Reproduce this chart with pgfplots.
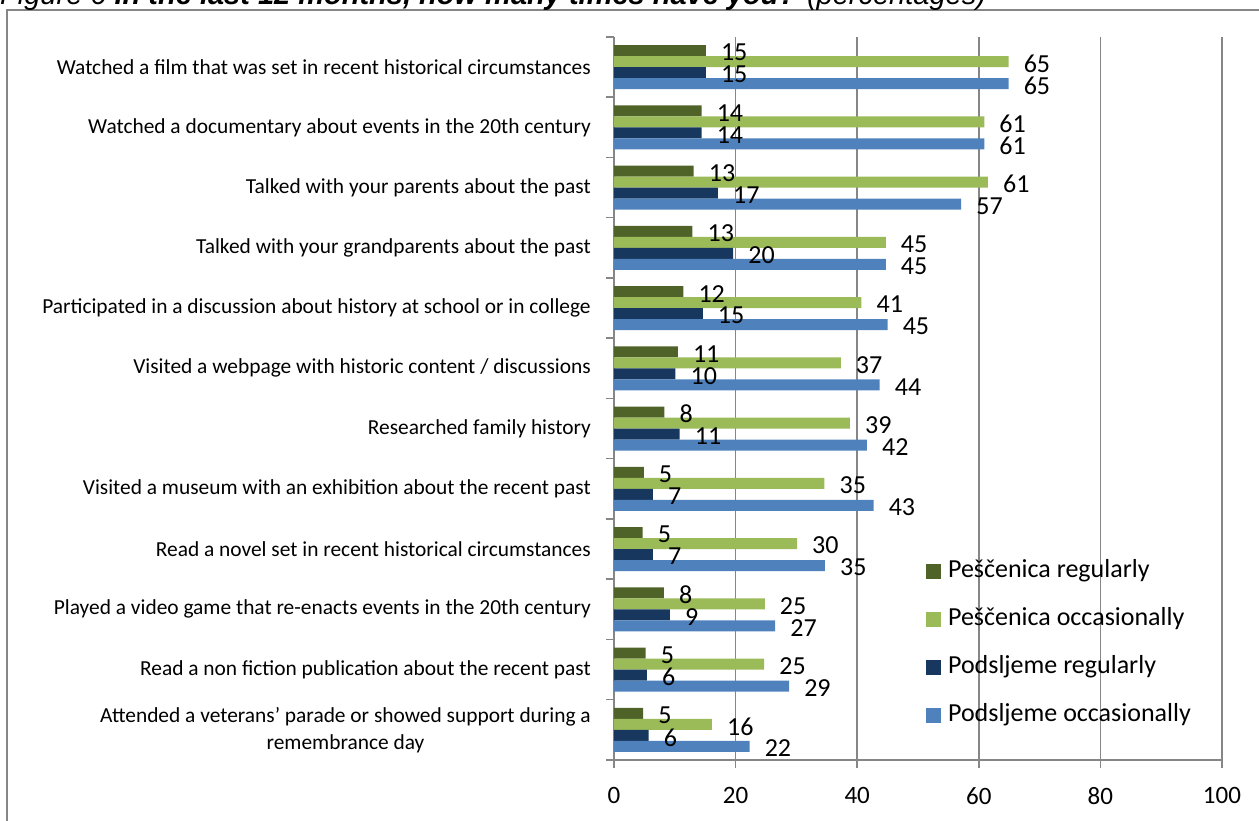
\documentclass[border=0pt]{standalone}
\usepackage{pgfplots}
\usepackage{pgfplotstable}
\pgfplotsset{compat=1.18}
\usepackage{fontspec}
\setmainfont{Carlito}
\newfontfamily\titlefont{Liberation Sans}
\definecolor{cDG}{HTML}{4F6228}
\definecolor{cLG}{HTML}{9BBB59}
\definecolor{cDB}{HTML}{17375E}
\definecolor{cB}{HTML}{4F81BD}
\definecolor{gridc}{HTML}{868686}

% y = category centre (top category = 11.5), x = bar length, lab = printed value
\pgfplotstableread{
y x lab
11.5 15.1 15
10.5 14.4 14
9.5 13.1 13
8.5 12.9 13
7.5 11.4 12
6.5 10.5 11
5.5 8.3 8
4.5 4.9 5
3.5 4.7 5
2.5 8.2 8
1.5 5.2 5
0.5 4.8 5
}\tblPR
\pgfplotstableread{
y x lab
11.5 64.9 65
10.5 60.9 61
9.5 61.5 61
8.5 44.7 45
7.5 40.7 41
6.5 37.3 37
5.5 38.8 39
4.5 34.6 35
3.5 30.1 30
2.5 24.8 25
1.5 24.7 25
0.5 16.1 16
}\tblPO
\pgfplotstableread{
y x lab
11.5 15.1 15
10.5 14.4 14
9.5 17.1 17
8.5 19.6 20
7.5 14.6 15
6.5 10.1 10
5.5 10.8 11
4.5 6.4 7
3.5 6.4 7
2.5 9.2 9
1.5 5.4 6
0.5 5.7 6
}\tblSR
\pgfplotstableread{
y x lab
11.5 64.9 65
10.5 60.9 61
9.5 57.1 57
8.5 44.7 45
7.5 45.0 45
6.5 43.7 44
5.5 41.6 42
4.5 42.7 43
3.5 34.7 35
2.5 26.5 27
1.5 28.8 29
0.5 22.3 22
}\tblSO

\begin{document}
\begin{tikzpicture}
\useasboundingbox (0pt,0pt) rectangle (1259pt,821pt);
\draw[gridc, line width=1.5pt] (7pt,-30pt) rectangle (1300pt,811pt);
\node[anchor=base west, inner sep=0pt] at (0pt,816pt)
  {\titlefont\fontsize{29}{29}\selectfont\itshape Figure 6 \bfseries In the last 12 months, how many times have you?\mdseries{} (percentages)};
\begin{axis}[
  at={(614pt,61pt)}, anchor=south west,
  scale only axis, width=608pt, height=723pt,
  xmin=0, xmax=100, ymin=0, ymax=12,
  clip=false,
  xbar, bar width=11pt,
  axis x line=bottom, axis y line=left,
  axis line style={draw=gridc, line width=2pt, -},
  tick align=outside, major tick length=8pt,
  tick style={draw=gridc, line width=1.5pt},
  xtick={0,20,...,100},
  /pgf/number format/assume math mode=true,
  xmajorgrids, grid style={draw=gridc, line width=1.6pt},
  xticklabel style={font=\fontsize{25}{25}\selectfont, inner sep=0pt, anchor=north, yshift=-19pt},
  ytick={0,1,...,12}, yticklabels={},
  extra y ticks={0.5,1.5,...,11.5},
  extra y tick labels={{Attended a veterans’ parade or showed support during a\\remembrance day},
    Read a non fiction publication about the recent past,
    Played a video game that re-enacts events in the 20th century,
    Read a novel set in recent historical circumstances,
    Visited a museum with an exhibition about the recent past,
    Researched family history,
    Visited a webpage with historic content / discussions,
    Participated in a discussion about history at school or in college,
    Talked with your grandparents about the past,
    Talked with your parents about the past,
    Watched a documentary about events in the 20th century,
    Watched a film that was set in recent historical circumstances},
  extra y tick style={major tick length=0pt,
    yticklabel style={font=\fontsize{21.4}{27}\selectfont, align=center, anchor=east, inner sep=0pt, xshift=-23pt}},
  point meta=explicit symbolic,
  nodes near coords,
  nodes near coords style={font=\fontsize{26}{26}\selectfont, anchor=west, inner sep=0pt, xshift=15pt, yshift=-2pt, text=black},
  legend cell align=left,
  legend image code/.code={\fill[#1] (0pt,-7.5pt) rectangle (15pt,7.5pt);},
  legend style={draw=none, fill=none, at={(0.513,0.278)}, anchor=north west,
    font=\fontsize{26}{26}\selectfont, inner sep=0pt, column sep=7pt, row sep=24pt,
    nodes={inner sep=0pt, text height=18pt, text depth=6pt}},
]
\addplot[fill=cDG, draw=none, bar shift=16.5pt] table[x=x, y=y, meta=lab] {\tblPR};
\addlegendentry{Peščenica regularly}
\addplot[fill=cLG, draw=none, bar shift=5.5pt] table[x=x, y=y, meta=lab] {\tblPO};
\addlegendentry{Peščenica occasionally}
\addplot[fill=cDB, draw=none, bar shift=-5.5pt] table[x=x, y=y, meta=lab] {\tblSR};
\addlegendentry{Podsljeme regularly}
\addplot[fill=cB, draw=none, bar shift=-16.5pt] table[x=x, y=y, meta=lab] {\tblSO};
\addlegendentry{Podsljeme occasionally}
\end{axis}
\end{tikzpicture}
\end{document}
